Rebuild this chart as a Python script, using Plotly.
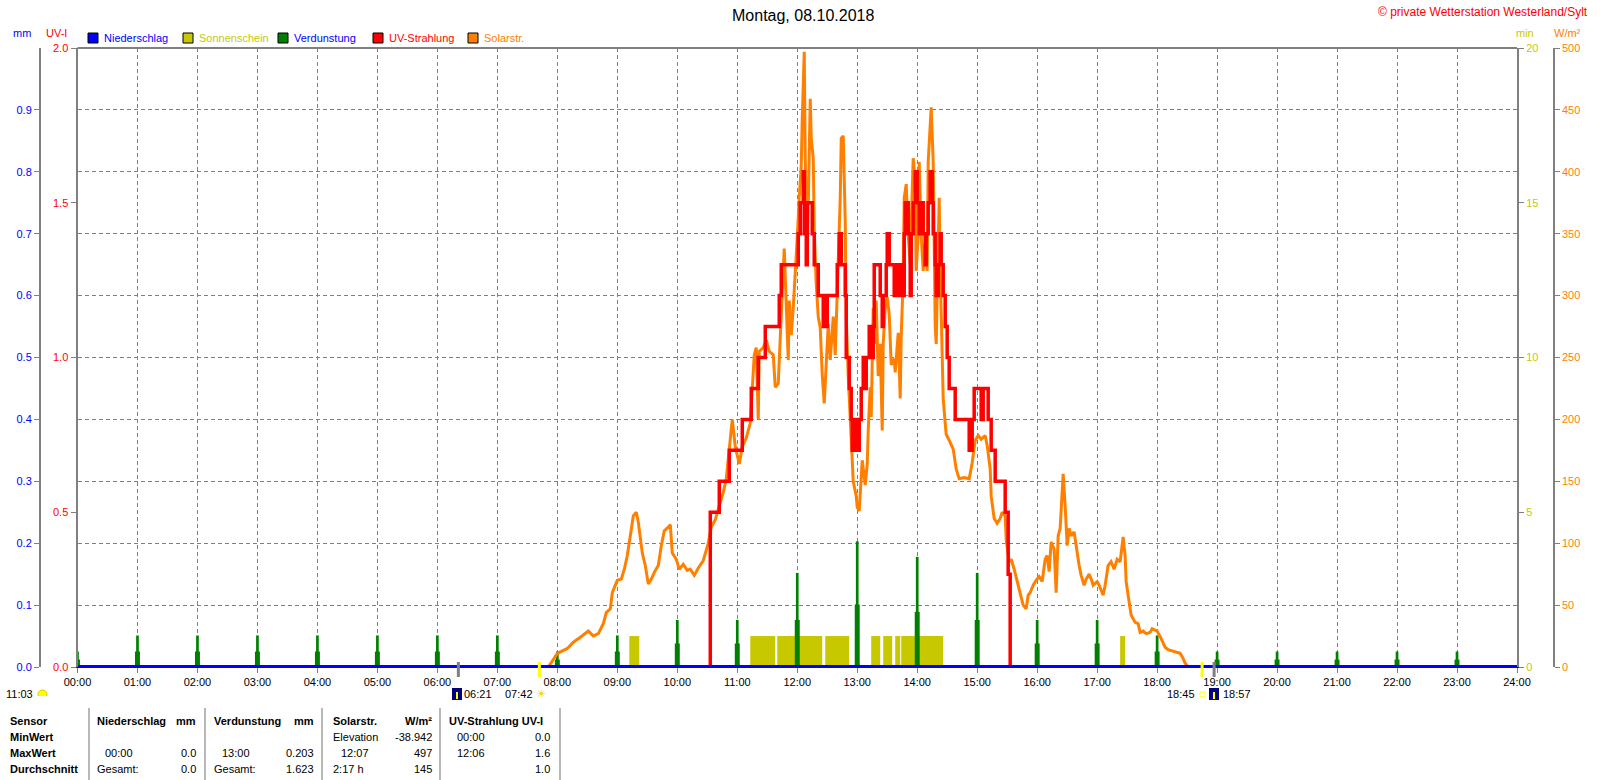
import plotly.graph_objects as go

W, H = 1600, 780

# --- data ----------------------------------------------------------------
hours = list(range(25))
hour_labels = ["%02d:00" % h for h in hours]

rain_mm = [0.0, 0.0, 0.0, 0.0, 0.0, 0.0, 0.0, 0.0, 0.0, 0.0, 0.0, 0.0, 0.0,
           0.0, 0.0, 0.0, 0.0, 0.0, 0.0, 0.0, 0.0, 0.0, 0.0, 0.0, 0.0]

evap_hours = list(range(24))
evap_mm = [0.025, 0.051, 0.051, 0.051, 0.051, 0.051, 0.051, 0.051, 0.025, 0.051, 0.076, 0.076,
           0.152, 0.203, 0.178, 0.152, 0.076, 0.076, 0.051, 0.025, 0.025, 0.025, 0.025, 0.025]
evap_low = [0.012, 0.025, 0.025, 0.025, 0.025, 0.025, 0.025, 0.025, 0.012, 0.025, 0.038, 0.038,
            0.076, 0.101, 0.089, 0.076, 0.038, 0.038, 0.025, 0.012, 0.012, 0.012, 0.012, 0.012]

sun_start = ["09:12", "11:13", "11:40", "12:28", "13:14", "13:26", "13:38", "13:44", "17:23"]
sun_end = ["09:22", "11:38", "12:25", "12:52", "13:23", "13:35", "13:43", "14:26", "17:28"]
sun_min = [1, 1, 1, 1, 1, 1, 1, 1, 1]

solar_t = ["07:51", "07:55", "08:00", "08:10", "08:16", "08:23", "08:31", "08:36", "08:41", "08:46",
           "08:49", "08:53", "08:55", "09:00", "09:04", "09:07", "09:10", "09:13", "09:16", "09:19",
           "09:21", "09:25", "09:28", "09:31", "09:34", "09:38", "09:41", "09:44", "09:47", "09:51",
           "09:53", "09:55", "09:59", "10:02", "10:06", "10:10", "10:13", "10:17", "10:21", "10:26",
           "10:31", "10:34", "10:38", "10:43", "10:46", "10:49", "10:51", "10:53", "10:55", "10:58",
           "11:00", "11:02", "11:05", "11:09", "11:13", "11:15", "11:17", "11:19", "11:21", "11:22",
           "11:26", "11:29", "11:32", "11:36", "11:38", "11:41", "11:43", "11:45", "11:47", "11:49",
           "11:51", "11:52", "11:54", "11:56", "11:58", "12:00", "12:02", "12:04", "12:05", "12:07",
           "12:08", "12:10", "12:11", "12:13", "12:14", "12:16", "12:17", "12:19", "12:21", "12:23",
           "12:25", "12:27", "12:29", "12:31", "12:33", "12:36", "12:38", "12:41", "12:43", "12:44",
           "12:46", "12:48", "12:49", "12:51", "12:53", "12:55", "12:56", "12:59", "13:00", "13:02",
           "13:04", "13:05", "13:08", "13:10", "13:11", "13:13", "13:14", "13:16", "13:17", "13:19",
           "13:21", "13:23", "13:25", "13:26", "13:28", "13:30", "13:32", "13:34", "13:37", "13:38",
           "13:41", "13:43", "13:44", "13:46", "13:47", "13:49", "13:51", "13:53", "13:55", "13:56",
           "13:58", "13:59", "14:01", "14:02", "14:04", "14:06", "14:08", "14:10", "14:11", "14:13",
           "14:14", "14:16", "14:17", "14:18", "14:19", "14:21", "14:22", "14:23", "14:25", "14:26",
           "14:28", "14:29", "14:32", "14:36", "14:39", "14:42", "14:47", "14:52", "14:55", "14:58",
           "15:01", "15:04", "15:08", "15:10", "15:13", "15:14", "15:17", "15:20", "15:23", "15:25",
           "15:28", "15:29", "15:32", "15:34", "15:37", "15:40", "15:43", "15:46", "15:49", "15:51",
           "15:53", "15:56", "15:59", "16:02", "16:05", "16:08", "16:10", "16:12", "16:14", "16:17",
           "16:19", "16:21", "16:23", "16:25", "16:26", "16:28", "16:30", "16:32", "16:34", "16:37",
           "16:40", "16:42", "16:44", "16:47", "16:49", "16:52", "16:55", "16:56", "17:00", "17:02",
           "17:06", "17:08", "17:11", "17:14", "17:17", "17:20", "17:23", "17:25", "17:26", "17:28",
           "17:29", "17:31", "17:34", "17:38", "17:41", "17:43", "17:46", "17:49", "17:53", "17:55",
           "18:00", "18:04", "18:08", "18:11", "18:16", "18:23", "18:26", "18:28", "18:31"]
solar_w = [0, 5, 11, 15, 20, 24, 29, 25, 27, 35,
           44, 47, 60, 70, 71, 79, 90, 106, 122, 125,
           117, 92, 82, 67, 71, 78, 82, 98, 110, 113,
           115, 92, 87, 79, 83, 78, 79, 74, 80, 86,
           100, 113, 119, 133, 141, 152, 168, 189, 200, 178,
           172, 164, 178, 185, 197, 226, 252, 258, 200, 255,
           258, 264, 255, 252, 226, 229, 271, 303, 338, 290,
           248, 296, 268, 290, 315, 347, 379, 405, 443, 497,
           411, 331, 373, 459, 427, 411, 354, 309, 283, 274,
           236, 213, 245, 277, 248, 283, 252, 322, 379, 427,
           429, 360, 283, 235, 200, 175, 150, 138, 129, 126,
           158, 167, 147, 164, 191, 226, 202, 290, 261, 296,
           235, 261, 191, 261, 290, 299, 285, 244, 249, 238,
           270, 217, 267, 314, 379, 390, 349, 326, 385, 411,
           393, 320, 349, 408, 349, 320, 343, 320, 408, 432,
           452, 408, 335, 276, 261, 335, 379, 320, 261, 217,
           197, 188, 183, 176, 160, 152, 153, 152, 165, 183,
           187, 184, 187, 179, 160, 138, 120, 116, 120, 125,
           122, 103, 85, 87, 79, 69, 58, 50, 47, 58,
           60, 66, 70, 73, 69, 87, 90, 77, 101, 95,
           60, 106, 112, 138, 156, 130, 98, 112, 106, 109,
           90, 82, 74, 66, 71, 75, 69, 66, 69, 66,
           58, 66, 82, 85, 79, 87, 85, 98, 105, 90,
           69, 58, 42, 36, 35, 28, 29, 27, 28, 31,
           29, 23, 16, 14, 13, 11, 7, 3, 0]

uv_t = ["00:00", "10:33", "10:42", "10:52", "11:05", "11:14", "11:21", "11:28", "11:42", "11:44",
        "12:01", "12:03", "12:06", "12:07", "12:08", "12:09", "12:10", "12:15", "12:17", "12:21",
        "12:26", "12:27", "12:29", "12:30", "12:40", "12:42", "12:44", "12:48", "12:49", "12:52",
        "12:54", "12:55", "12:57", "12:59", "13:02", "13:04", "13:06", "13:07", "13:09", "13:12",
        "13:14", "13:16", "13:17", "13:23", "13:25", "13:26", "13:29", "13:30", "13:32", "13:37",
        "13:38", "13:40", "13:42", "13:45", "13:47", "13:48", "13:51", "13:53", "13:54", "13:56",
        "13:58", "14:00", "14:02", "14:04", "14:06", "14:08", "14:09", "14:11", "14:13", "14:15",
        "14:16", "14:18", "14:19", "14:21", "14:23", "14:24", "14:26", "14:28", "14:30", "14:32",
        "14:38", "14:52", "14:55", "14:57", "15:04", "15:06", "15:11", "15:14", "15:18", "15:28",
        "15:31", "15:33", "24:00"]
uv_i = [0.0, 0.5, 0.6, 0.7, 0.8, 0.9, 1.0, 1.1, 1.2, 1.3,
        1.4, 1.5, 1.6, 1.4, 1.5, 1.3, 1.5, 1.4, 1.3, 1.2,
        1.1, 1.2, 1.1, 1.2, 1.3, 1.4, 1.3, 1.2, 1.0, 0.9,
        0.8, 0.7, 0.8, 0.7, 0.8, 0.9, 1.0, 0.9, 1.0, 1.1,
        1.0, 1.1, 1.3, 1.2, 1.1, 1.2, 1.3, 1.4, 1.3, 1.2,
        1.3, 1.2, 1.3, 1.2, 1.4, 1.5, 1.4, 1.2, 1.4, 1.5,
        1.6, 1.5, 1.4, 1.5, 1.4, 1.3, 1.4, 1.5, 1.6, 1.5,
        1.4, 1.3, 1.2, 1.3, 1.4, 1.3, 1.2, 1.1, 1.0, 0.9,
        0.8, 0.7, 0.8, 0.9, 0.8, 0.9, 0.8, 0.7, 0.6, 0.5,
        0.3, 0.0, 0.0]

dawn, sunrise, sunset, dusk = "06:21", "07:42", "18:45", "18:57"
day_length = "11:03"

table_rows = [
    ["Sensor", "Niederschlag", "mm", "Verdunstung", "mm", "Solarstr.", "W/m²", "UV-Strahlung UV-I", ""],
    ["MinWert", "", "", "", "", "Elevation", "-38.942", "00:00", "0.0"],
    ["MaxWert", "00:00", "0.0", "13:00", "0.203", "12:07", "497", "12:06", "1.6"],
    ["Durchschnitt", "Gesamt:", "0.0", "Gesamt:", "1.623", "2:17 h", "145", "", "1.0"],
]

BLUE, OLIVE, GREEN, RED, ORANGE, GREY = "#0000FF", "#C8C800", "#008000", "#FF0000", "#FF8000", "#808080"
FONT = "Liberation Sans"


def hm(t):
    h, m = t.split(":")
    return int(h) + int(m) / 60


def px(x):
    return x / W


def py(y):
    return 1 - y / H


X0, X1, YT, YB = 77.5, 1517, 48, 667
dom = [py(YB), py(YT)]

# axes: y = min (bottom layer), y2 = mm, y3 = W/m², y4 = UV-I, y5 = mm (top, hidden)
fig = go.Figure()
fig.add_trace(go.Bar(x=[hm(s) for s in sun_start], y=sun_min,
                     width=[hm(e) - hm(s) for s, e in zip(sun_start, sun_end)], offset=0,
                     marker=dict(color=OLIVE, line_width=0), yaxis="y", name="Sonnenschein"))
fig.add_trace(go.Bar(x=evap_hours, y=evap_low, width=0.083, marker=dict(color=GREEN, line_width=0),
                     yaxis="y2", name="Verdunstung"))
fig.add_trace(go.Bar(x=evap_hours, y=evap_mm, width=0.045, marker=dict(color=GREEN, line_width=0),
                     yaxis="y2", name="Verdunstung"))
fig.add_trace(go.Scatter(x=[hm(t) for t in solar_t], y=solar_w, mode="lines", yaxis="y3",
                         line=dict(color=ORANGE, width=3), name="Solarstr."))
fig.add_trace(go.Scatter(x=[hm(t) for t in uv_t], y=uv_i, mode="lines", yaxis="y4",
                         line=dict(color=RED, width=3.5, shape="hv"), name="UV-Strahlung"))
fig.add_trace(go.Scatter(x=hours, y=rain_mm, mode="lines", yaxis="y5",
                         line=dict(color=BLUE, width=4), name="Niederschlag"))

tickfont = dict(family=FONT, size=11)
grid = dict(showgrid=True, gridcolor=GREY, griddash="4px,3px", gridwidth=1)
common = dict(domain=dom, zeroline=False, ticks="outside", ticklen=5, tickcolor=GREY, automargin=False)

fig.update_layout(
    width=W, height=H, margin=dict(l=0, r=0, t=0, b=0, pad=0, autoexpand=False),
    paper_bgcolor="white", plot_bgcolor="white", showlegend=False, barmode="overlay",
    font=dict(family=FONT, size=11, color="black"),
    xaxis=dict(domain=[px(X0), px(X1)], range=[0, 24], tickvals=hours, ticktext=hour_labels,
               ticks="outside", ticklen=5, tickcolor=GREY, showline=True, linecolor=BLUE, linewidth=1,
               zeroline=False, tickfont=tickfont, anchor="y", automargin=False, **grid),
    yaxis=dict(range=[0, 20], tickvals=[0, 5, 10, 15, 20], tickfont=dict(tickfont, color=OLIVE),
               anchor="x", side="right", showline=True, linecolor=GREY, linewidth=2, showgrid=False,
               **common),
    yaxis2=dict(range=[0, 1.0], tickvals=[i / 10 for i in range(10)],
                ticktext=["%.1f" % (i / 10) for i in range(10)], tickfont=dict(tickfont, color=BLUE),
                overlaying="y", anchor="free", position=px(40), side="left", showline=True,
                linecolor=GREY, linewidth=2, **grid, **common),
    yaxis3=dict(range=[0, 500], tickvals=list(range(0, 501, 50)), tickfont=dict(tickfont, color=ORANGE),
                overlaying="y", anchor="free", position=px(1554), side="right", showline=True,
                linecolor=GREY, linewidth=1.5, showgrid=False, **common),
    yaxis4=dict(range=[0, 2.0], tickvals=[0, 0.5, 1.0, 1.5, 2.0],
                ticktext=["0.0", "0.5", "1.0", "1.5", "2.0"], tickfont=dict(tickfont, color=RED),
                overlaying="y", anchor="x", side="left", showline=True, linecolor=GREY, linewidth=2,
                showgrid=False, **common),
    yaxis5=dict(range=[0, 1.0], overlaying="y", anchor="x", visible=False, domain=dom),
)

shapes = [dict(type="line", xref="paper", yref="paper", x0=px(X0), x1=px(X1), y0=py(YT), y1=py(YT),
               line=dict(color=GREY, width=2))]
ann = []


def text(x, y, s, color="black", size=11, anchor="left"):
    ann.append(dict(x=px(x), y=py(y), xref="paper", yref="paper", text=s, showarrow=False,
                    xanchor=anchor, yanchor="middle", font=dict(family=FONT, size=size, color=color)))


text(803, 15, "Montag, 08.10.2018", size=16, anchor="center")
text(1590, 12, "© private Wetterstation Westerland/Sylt", color=RED, size=12, anchor="right")

# axis titles
text(22, 33, "mm", BLUE, anchor="center")
text(57, 33, "UV-I", RED, anchor="center")
text(1525, 33, "min", OLIVE, anchor="center")
text(1567, 33, "W/m²", ORANGE, anchor="center")

# legend
legend = [("Niederschlag", BLUE, BLUE), ("Sonnenschein", OLIVE, OLIVE), ("Verdunstung", GREEN, BLUE),
          ("UV-Strahlung", RED, RED), ("Solarstr.", ORANGE, ORANGE)]
for (name, fill, tcol), lx in zip(legend, [88, 183, 278, 373, 468]):
    shapes.append(dict(type="rect", xref="paper", yref="paper", x0=px(lx), x1=px(lx + 10),
                       y0=py(43), y1=py(33), fillcolor=fill, line=dict(color="black", width=1)))
    text(lx + 14, 38, name, tcol)

# sunrise / sunset marks below the axis
for t, col in [(dawn, GREY), (sunrise, "#FFFF00"), (sunset, "#FFFF00"), (dusk, GREY)]:
    shapes.append(dict(type="line", xref="x", yref="paper", x0=hm(t), x1=hm(t), y0=py(677), y1=py(662),
                       line=dict(color=col, width=3)))
text(35, 694, day_length, anchor="right")
shapes.append(dict(type="circle", xref="paper", yref="paper", x0=px(38), x1=px(47), y0=py(699), y1=py(690),
                   fillcolor="#FFFF00", line=dict(color="#E0C000", width=1)))
shapes.append(dict(type="rect", xref="paper", yref="paper", x0=px(36), x1=px(49), y0=py(701), y1=py(696),
                   fillcolor="white", line_width=0))
for ix in [452, 1209]:
    shapes.append(dict(type="rect", xref="paper", yref="paper", x0=px(ix), x1=px(ix + 10), y0=py(700),
                       y1=py(688), fillcolor="#000080", line_width=0))
    shapes.append(dict(type="line", xref="paper", yref="paper", x0=px(ix + 5), x1=px(ix + 5), y0=py(699),
                       y1=py(692), line=dict(color="#FFFF00", width=2)))
text(462, 694, dawn)
text(535, 694, sunrise, anchor="right")
text(541, 694, "☀", "#F0D800", size=12, anchor="center")
text(1197, 694, sunset, anchor="right")
shapes.append(dict(type="rect", xref="paper", yref="paper", x0=px(1200), x1=px(1205), y0=py(697), y1=py(692),
                   fillcolor="white", line=dict(color="#FFFF00", width=1)))
text(1221, 694, dusk)

# table
for sx in [89, 205, 322, 440, 560]:
    shapes.append(dict(type="line", xref="paper", yref="paper", x0=px(sx), x1=px(sx), y0=py(708), y1=py(780),
                       line=dict(color="#A0A0A0", width=1.5)))
cols = [(8, "left"), (95, "left"), (198, "right"), (212, "left"), (316, "right"),
        (331, "left"), (434, "right"), (447, "left"), (552, "right")]
for r, (row, ry) in enumerate(zip(table_rows, [721, 737, 753, 769])):
    for c, (cell, (cx, anc)) in enumerate(zip(row, cols)):
        if not cell:
            continue
        if r == 1 and c == 7 or r == 2 and c in (1, 3, 5, 7):
            cx += 8
        s = "<b>%s</b>" % cell if (r == 0 or c == 0) else cell
        text(cx, ry, s, anchor=anc)

fig.update_layout(shapes=shapes, annotations=ann)
fig.write_html("out.html", config={"displayModeBar": False},
               post_script="document.body.style.margin='0px';")
